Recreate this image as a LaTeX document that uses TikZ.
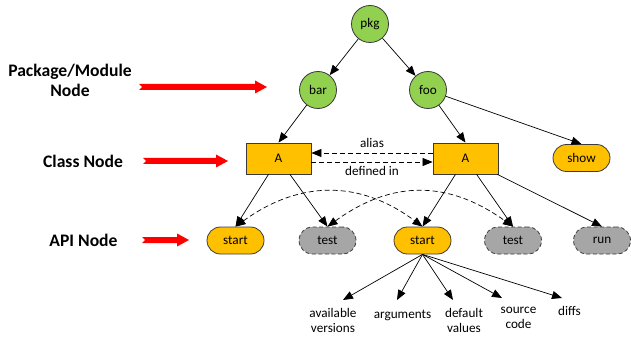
\documentclass[tikz,border=0pt]{standalone}
\usepackage{fontspec}
\setmainfont{Carlito}
\usetikzlibrary{arrows.meta,calc}

\definecolor{pkggreen}{HTML}{92D050}
\definecolor{classorange}{HTML}{FFC000}
\definecolor{apigray}{HTML}{A6A6A6}
\definecolor{edgegray}{HTML}{3A3A3A}

\begin{document}
\begin{tikzpicture}[x=1pt,y=-1pt,
  font=\fontsize{13.2}{15}\selectfont,
  pkgnode/.style={circle, draw=edgegray, line width=0.8pt, fill=pkggreen,
    minimum size=37pt, inner sep=0pt},
  classnode/.style={rectangle, draw=edgegray, line width=0.8pt, fill=classorange,
    minimum width=65pt, minimum height=31pt, inner sep=0pt},
  apinode/.style={rectangle, rounded corners=13.5pt, draw=edgegray, line width=0.8pt,
    fill=classorange, minimum width=57pt, minimum height=27pt, inner sep=0pt},
  ghostnode/.style={apinode, fill=apigray, dash pattern=on 4pt off 2.5pt},
  infonode/.style={align=center, inner xsep=1pt, inner ysep=8.5pt, anchor=north},
  legend/.style={font=\fontsize{17.6}{20}\selectfont\bfseries, align=center},
  link/.style={-{Triangle[length=10pt,width=8pt]}, line width=0.7pt, draw=black},
  ref/.style={link, dash pattern=on 5pt off 3pt},
  refboth/.style={{Triangle[length=10pt,width=8pt]}-{Triangle[length=10pt,width=8pt]},
    line width=0.7pt, dash pattern=on 5pt off 3pt},
  pics/notcharrow/.style={code={
    \fill[red] (0,-3) -- ({#1-12},-3) -- ({#1-12},-6.5) -- (#1,0) -- ({#1-12},6.5)
      -- ({#1-12},3) -- (0,3) -- (3,0) -- cycle;}},
]
\useasboundingbox (0,0) rectangle (631,339);

% legend on the left
\node[legend] (pkglabel) at (70,80) {Package/Module\\Node};
\node[legend] (classlabel) at (83,161) {Class Node};
\node[legend] (apilabel) at (83.5,240) {API Node};
\pic at (139,87) {notcharrow=128};
\pic at (143,161) {notcharrow=85};
\pic at (142,240) {notcharrow=47};

% packages and modules
\node[pkgnode] (pkg) at (370,24) {pkg};
\node[pkgnode] (bar) at (318,90) {bar};
\node[pkgnode] (foo) at (428,90) {foo};

% classes
\node[classnode] (A1) at (278.5,158.5) {A};
\node[classnode] (A2) at (465.5,158.5) {A};

% API entries
\node[apinode] (show) at (581.5,158) {show};
\node[apinode] (start1) at (235.5,240.5) {start};
\node[ghostnode] (test1) at (327.5,240.5) {test};
\node[apinode] (start2) at (422.5,240.5) {start};
\node[ghostnode] (test2) at (513,240.5) {test};
\node[ghostnode] (run) at (602,240.5) {run};

% details of one API entry
\node[infonode] (versions) at (333,300) {available\\versions};
\node[infonode] (args) at (402.5,301) {arguments};
\node[infonode] (defaults) at (464,300) {default\\values};
\node[infonode] (source) at (518.5,298) {source\\code};
\node[infonode] (diffs) at (569.5,298) {diffs};

% tree edges
\draw[link] (pkg) -- (bar);
\draw[link] (pkg) -- (foo);
\draw[link] (bar) -- (A1.north);
\draw[link] (foo) -- (A2.north);
\draw[link] (foo) -- (show.north);
\draw[link] (A1) -- (start1.north);
\draw[link] (A1) -- (test1.north);
\draw[link] (A2) -- (start2.north);
\draw[link] (A2) -- (test2.north);
\draw[link] (A2) -- (run.north);

% class relations
\draw[ref] ([yshift=5.5pt]A2.west) -- ([yshift=5.5pt]A1.east)
  node[midway, above=2pt] {alias};
\draw[ref] ([yshift=-3.5pt]A1.east) -- ([yshift=-3.5pt]A2.west)
  node[midway, below=0.5pt] {defined in};

% matching API entries
\draw[refboth] (start1.north) .. controls (300,180) and (360,180) .. (start2.north);
\draw[refboth] (test1.north) .. controls (392,180) and (448,180) .. (test2.north);

% details
\draw[link] (start2.south) -- ([xshift=10pt]versions.north);
\draw[link] (start2.south) -- ([xshift=-5.5pt,yshift=1pt]args.north);
\draw[link] (start2.south) -- ([xshift=-11pt]defaults.north);
\draw[link] (start2.south) -- ([xshift=-16.5pt]source.north);
\draw[link] (start2.south) -- ([xshift=-7.5pt]diffs.north);
\end{tikzpicture}
\end{document}
